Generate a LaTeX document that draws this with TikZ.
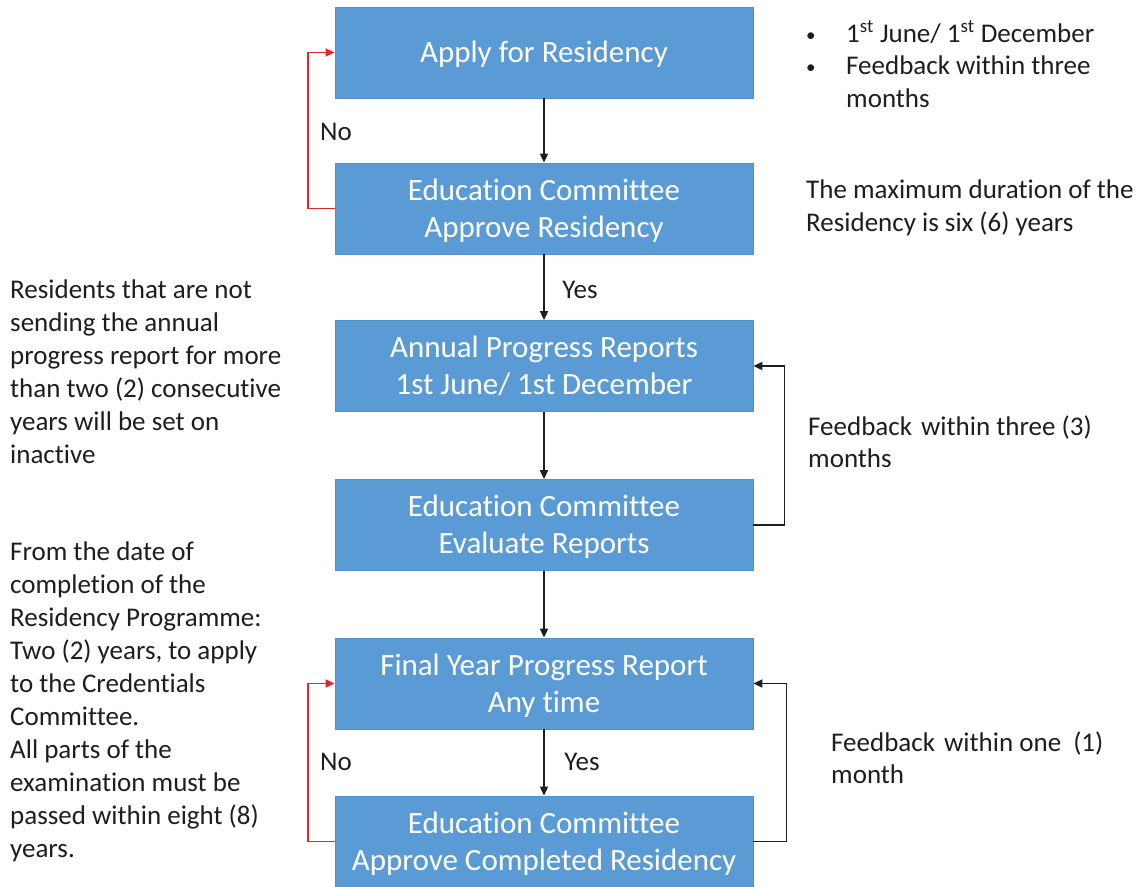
\documentclass[tikz,border=0pt]{standalone}
\usepackage{fontspec}
\setmainfont[Ligatures=NoCommon]{Carlito}
\usetikzlibrary{arrows.meta}
\definecolor{boxblue}{HTML}{5B9BD5}
\definecolor{boxedge}{HTML}{5290CB}
\definecolor{loopred}{HTML}{DA2A2A}
\definecolor{ink}{HTML}{1E1E1E}
\newcommand{\smallbullet}{\raisebox{1pt}{\fontsize{19}{19}\selectfont\textbullet}}
\newcommand{\stagelines}[1]{\begin{tabular}[b]{@{}c@{}}#1\end{tabular}}
\begin{document}
\begin{tikzpicture}[x=1pt,y=-1pt,
  stage/.style={fill=boxblue, draw=boxedge, line width=0.8pt,
    minimum width=418pt, minimum height=91pt, inner sep=0pt,
    text=white, font=\fontsize{31}{37}\selectfont},
  oneline/.style={stage, text height=31pt, text depth=11pt},
  twoline/.style={stage, text height=68pt, text depth=11pt},
  flow/.style={draw=ink, line width=1.8pt, -{Triangle[length=9pt,width=8pt]}},
  back/.style={flow, draw=loopred},
  note/.style={anchor=base west, inner sep=0pt, text=ink,
    font=\fontsize{27}{33}\selectfont},
  tag/.style={anchor=base, inner sep=0pt, text=ink,
    font=\fontsize{27}{33}\selectfont}
]
\useasboundingbox (0,0) rectangle (1148,886);
\fill[white] (0,0) rectangle (1148,886);

% process stages
\node[oneline] (b1) at (544,52.5)  {\stagelines{Apply for Residency}};
\node[twoline] (b2) at (544,208.5) {\stagelines{Education Committee\\Approve Residency}};
\node[twoline] (b3) at (544,366)   {\stagelines{Annual Progress Reports\\1st June/ 1st December}};
\node[twoline] (b4) at (544,525)   {\stagelines{Education Committee\\Evaluate Reports}};
\node[twoline] (b5) at (544,683.5) {\stagelines{Final Year Progress Report\\Any time}};
\node[twoline] (b6) at (544,841.5) {\stagelines{Education Committee\\Approve Completed Residency}};

% main flow
\draw[flow] (b1.south) -- (b2.north);
\draw[flow] (b2.south) -- (b3.north);
\draw[flow] (b3.south) -- (b4.north);
\draw[flow] (b4.south) -- (b5.north);
\draw[flow] (b5.south) -- (b6.north);

% loops
\draw[back] (b2.west) -- ++(-27,0) |- (b1.west);
\draw[back] (b6.west) -- ++(-27,0) |- (b5.west);
\draw[flow] (b4.east) -- ++(31,0) |- (b3.east);
\draw[flow] (b6.east) -- ++(33,0) |- (b5.east);

% decision labels
\node[tag] (no1)  at (336,140) {No};
\node[tag] (yes1) at (580,298) {Yes};
\node[tag] (no2)  at (336,770) {No};
\node[tag] (yes2) at (582,770) {Yes};

% side notes
\node[note] (n1) at (806,42) {\fontsize{27}{32.5}\selectfont
  \begin{tabular}[t]{@{}l@{}}
  \makebox[40pt][l]{\smallbullet}1\textsuperscript{st} June/ 1\textsuperscript{st} December\\
  \makebox[40pt][l]{\smallbullet}Feedback within three\\
  \hspace*{40pt}months
  \end{tabular}};
\node[note] (n2) at (806,198) {\begin{tabular}[t]{@{}l@{}}
  The maximum duration of the\\
  Residency is six (6) years
  \end{tabular}};
\node[note] (n3) at (10,298) {\begin{tabular}[t]{@{}l@{}}
  Residents that are not\\
  sending the annual\\
  progress report for more\\
  than two (2) consecutive\\
  years will be set on\\
  inactive
  \end{tabular}};
\node[note] (n4) at (808,435) {\fontsize{27}{32}\selectfont
  \begin{tabular}[t]{@{}l@{}}
  Feedback\hspace{3pt} within three (3)\\
  months
  \end{tabular}};
\node[note] (n5) at (10,560) {\fontsize{27}{33}\selectfont
  \begin{tabular}[t]{@{}l@{}}
  From the date of\\
  completion of the\\
  Residency Programme:\\
  Two (2) years, to apply\\
  to the Credentials\\
  Committee.\\
  All parts of the\\
  examination must be\\
  passed within eight (8)\\
  years.
  \end{tabular}};
\node[note] (n6) at (831,751) {\fontsize{27}{32}\selectfont
  \begin{tabular}[t]{@{}l@{}}
  Feedback\hspace{3pt} within one\hspace{6pt} (1)\\
  month
  \end{tabular}};
\end{tikzpicture}
\end{document}
